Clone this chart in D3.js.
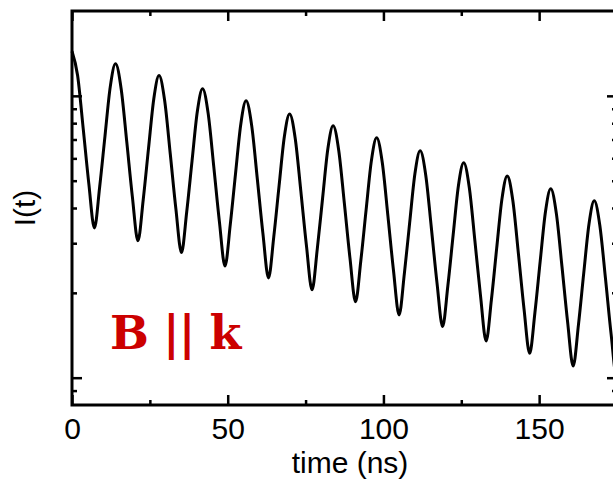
<!DOCTYPE html>
<html><head><meta charset="utf-8">
<script src="https://cdn.jsdelivr.net/npm/d3@7"></script>
<style>html,body{margin:0;padding:0;background:#fff;}svg{display:block;}</style>
</head><body>
<script>
// time samples (ns)
const timeNs = [
 0, 1.8, 3.6, 5.4, 7.2, 8.89, 10.59, 12.28,
 13.98, 15.78, 17.58, 19.38, 21.18, 22.87, 24.57, 26.26,
 27.95, 29.75, 31.55, 33.35, 35.15, 36.84, 38.54, 40.23,
 41.93, 43.73, 45.53, 47.33, 49.13, 50.82, 52.52, 54.21,
 55.9, 57.7, 59.5, 61.3, 63.1, 64.79, 66.49, 68.18,
 69.88, 71.68, 73.48, 75.28, 77.08, 78.77, 80.47, 82.16,
 83.85, 85.65, 87.45, 89.25, 91.05, 92.74, 94.44, 96.13,
 97.83, 99.63, 101.43, 103.23, 105.03, 106.72, 108.42, 110.11,
 111.8, 113.6, 115.4, 117.2, 119.0, 120.69, 122.39, 124.08,
 125.78, 127.58, 129.38, 131.18, 132.98, 134.67, 136.37, 138.06,
 139.75, 141.55, 143.35, 145.15, 146.95, 148.64, 150.34, 152.03,
 153.73, 155.53, 157.33, 159.13, 160.93, 162.62, 164.32, 166.01,
 167.7, 169.5, 171.3, 173.1, 174.9, 175
];
// intensity I(t) (arb. units, log axis)
const intensity = [
 1.44, 1.18, 0.765, 0.488, 0.340, 0.476, 0.720, 1.076,
 1.30, 1.06, 0.688, 0.439, 0.306, 0.428, 0.651, 0.975,
 1.18, 0.962, 0.623, 0.398, 0.278, 0.388, 0.587, 0.878,
 1.06, 0.865, 0.560, 0.358, 0.249, 0.349, 0.531, 0.795,
 0.960, 0.784, 0.508, 0.325, 0.226, 0.316, 0.479, 0.716,
 0.863, 0.706, 0.459, 0.294, 0.205, 0.287, 0.434, 0.649,
 0.783, 0.640, 0.416, 0.266, 0.186, 0.260, 0.394, 0.588,
 0.710, 0.580, 0.376, 0.240, 0.167, 0.234, 0.354, 0.529,
 0.638, 0.522, 0.339, 0.217, 0.152, 0.212, 0.321, 0.480,
 0.579, 0.472, 0.305, 0.195, 0.135, 0.189, 0.288, 0.431,
 0.520, 0.425, 0.275, 0.175, 0.122, 0.170, 0.259, 0.388,
 0.468, 0.382, 0.248, 0.158, 0.110, 0.154, 0.235, 0.351,
 0.424, 0.346, 0.225, 0.143, 0.100, 0.100
];
const xMajorTicks = [0, 50, 100, 150];
const xMinorTicks = [25, 75, 125, 175];
const yMajorTicks = [0.1, 1];
const yMinorTicks = [0.09, 0.2, 0.3, 0.4, 0.5, 0.6, 0.7, 0.8, 0.9];
const xTitle = "time (ns)";
const yTitle = "I(t)";
const annotation = "B || k";

const W = 613, H = 482;
const svg = d3.select("body").append("svg").attr("width", W).attr("height", H);
svg.append("rect").attr("width", W).attr("height", H).attr("fill", "#fff");

const x = d3.scaleLinear().domain([0, 175]).range([72, 617]);
const y = d3.scaleLog().domain([0.08, 2]).range([405, 11]);
const [x0, x1] = x.range(), [y0, y1] = y.range();

const font = "'Liberation Sans', Arial, sans-serif";

function styleAxis(g) {
  g.select(".domain").remove();
  g.selectAll(".tick line").attr("stroke", "#000").attr("stroke-width", 2.5);
}

// bottom axis
const gb = svg.append("g").attr("transform", `translate(0,${y0})`);
gb.call(d3.axisBottom(x).tickValues(xMajorTicks).tickSize(-10).tickSizeOuter(0).tickPadding(13).tickFormat(d3.format("d")))
  .call(styleAxis);
gb.selectAll("text").attr("font-family", font).attr("font-size", 30).attr("fill", "#000");
svg.append("g").attr("transform", `translate(0,${y0})`)
  .call(d3.axisBottom(x).tickValues(xMinorTicks).tickSize(-5).tickSizeOuter(0).tickFormat(""))
  .call(styleAxis);
// top axis
svg.append("g").attr("transform", `translate(0,${y1})`)
  .call(d3.axisTop(x).tickValues(xMajorTicks).tickSize(-10).tickSizeOuter(0).tickFormat(""))
  .call(styleAxis);
svg.append("g").attr("transform", `translate(0,${y1})`)
  .call(d3.axisTop(x).tickValues(xMinorTicks).tickSize(-5).tickSizeOuter(0).tickFormat(""))
  .call(styleAxis);
// left axis
svg.append("g").attr("transform", `translate(${x0},0)`)
  .call(d3.axisLeft(y).tickValues(yMajorTicks).tickSize(-10).tickSizeOuter(0).tickFormat(""))
  .call(styleAxis);
svg.append("g").attr("transform", `translate(${x0},0)`)
  .call(d3.axisLeft(y).tickValues(yMinorTicks).tickSize(-5).tickSizeOuter(0).tickFormat(""))
  .call(styleAxis);
// right axis
svg.append("g").attr("transform", `translate(${x1},0)`)
  .call(d3.axisRight(y).tickValues(yMajorTicks).tickSize(-10).tickSizeOuter(0).tickFormat(""))
  .call(styleAxis);
svg.append("g").attr("transform", `translate(${x1},0)`)
  .call(d3.axisRight(y).tickValues(yMinorTicks).tickSize(-5).tickSizeOuter(0).tickFormat(""))
  .call(styleAxis);

// frame
svg.append("rect").attr("x", x0).attr("y", y1).attr("width", x1 - x0).attr("height", y0 - y1)
  .attr("fill", "none").attr("stroke", "#000").attr("stroke-width", 3);

// curve
const pts = timeNs.map((t, i) => [t, intensity[i]]);
const line = d3.line().x(d => x(d[0])).y(d => y(d[1])).curve(d3.curveMonotoneX);
svg.append("path").datum(pts).attr("d", line)
  .attr("fill", "none").attr("stroke", "#000").attr("stroke-width", 3).attr("stroke-linejoin", "round");

// titles
svg.append("text").attr("x", 350).attr("y", 473).attr("text-anchor", "middle")
  .attr("font-family", font).attr("font-size", 30).attr("fill", "#000").text(xTitle);
svg.append("text").attr("transform", "translate(35,208) rotate(-90)").attr("text-anchor", "middle")
  .attr("font-family", font).attr("font-size", 30).attr("fill", "#000").text(yTitle);

// annotation
svg.append("text").attr("x", 110).attr("y", 349)
  .attr("font-family", "'DejaVu Serif', serif").attr("font-weight", "bold").attr("font-size", 46)
  .attr("letter-spacing", -1)
  .attr("fill", "#cc0000").text(annotation);
</script>
</body></html>
